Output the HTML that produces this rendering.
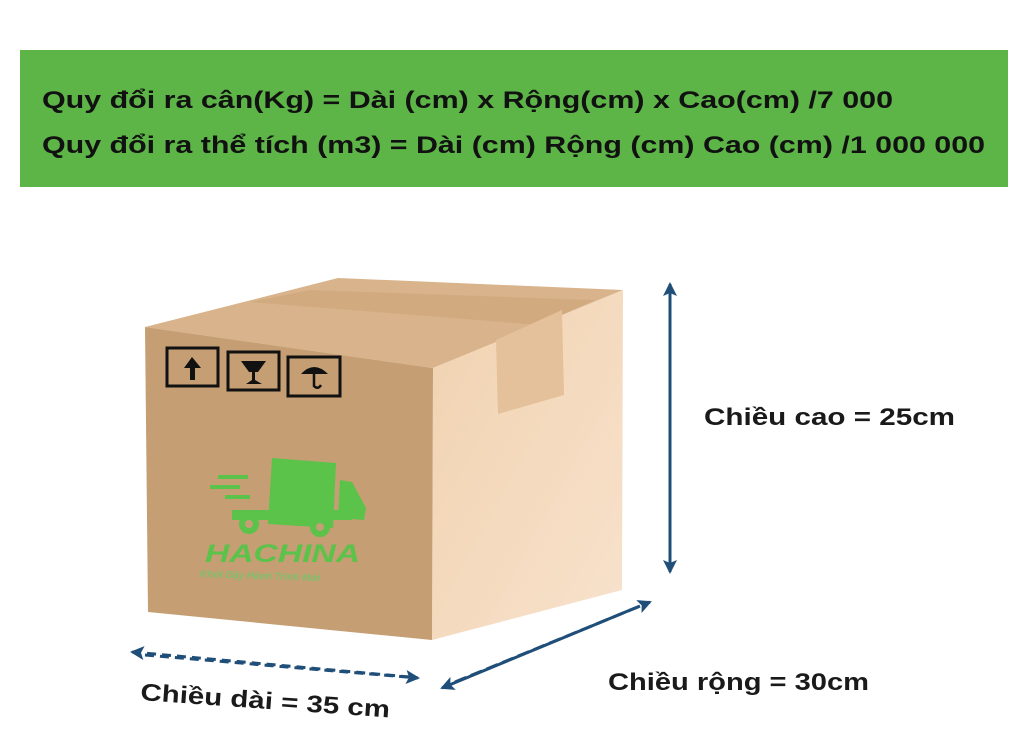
<!DOCTYPE html>
<html><head><meta charset="utf-8"><style>
html,body{margin:0;padding:0;background:#fff;}
svg{display:block;}
text{font-family:"Liberation Sans","DejaVu Sans",sans-serif;font-weight:bold;}
</style></head><body>
<svg width="1024" height="732" viewBox="0 0 1024 732" xmlns="http://www.w3.org/2000/svg">
<defs>
<marker id="ah" markerWidth="16" markerHeight="14" refX="12" refY="7" orient="auto" markerUnits="userSpaceOnUse">
<path d="M0,0 L14,7 L0,14 L3,7 Z" fill="#1f4e79"/></marker>
<linearGradient id="rg" x1="0" y1="0" x2="1" y2="1"><stop offset="0" stop-color="#f0d2b0"/><stop offset="1" stop-color="#f8e2cc"/></linearGradient>
</defs>
<rect x="20" y="50" width="988" height="137" fill="#5db548"/>
<text x="42" y="108" font-size="24" fill="#111" textLength="851" lengthAdjust="spacingAndGlyphs">Quy đổi ra cân(Kg) = Dài (cm) x Rộng(cm) x Cao(cm)  /7 000</text>
<text x="42" y="153" font-size="24" fill="#111" textLength="943" lengthAdjust="spacingAndGlyphs">Quy đổi ra thể tích (m3) = Dài (cm) Rộng (cm) Cao (cm) /1 000 000</text>

<polygon points="145,327 433,368 623,290 338,278" fill="#d8b38b"/>
<polygon points="250,302 540,325 595,300 310,290" fill="#cfa67c" opacity="0.7"/>
<polygon points="433,368 623,290 622,590 432,640" fill="url(#rg)"/>
<polygon points="496,340 562,310 564,395 498,414" fill="#e4c19b"/>
<polygon points="145,327 433,368 432,640 148,612" fill="#c59e74"/>

<g fill="none" stroke="#111" stroke-width="3">
<rect x="167" y="348" width="51" height="38"/>
<rect x="228" y="352" width="51" height="38"/>
<rect x="288" y="357" width="52" height="39"/>
</g>
<path d="M192,357 L184,368 L190,368 L190,380 L195,380 L195,368 L201,368 Z" fill="#111"/>
<path d="M241,361 L266,361 L258,372 L255,372 L255,380 L262,384 L246,384 L252,380 L252,372 L249,372 Z" fill="#111"/>
<path d="M301,374 Q314,360 328,374 Z" fill="#111"/>
<path d="M314,372 L314,386 Q318,390 321,385" fill="none" stroke="#111" stroke-width="2.5"/>

<g fill="#5bc24a">
<polygon points="272,458 336,463 333,528 268,524"/>
<path d="M340,480 L352,482 L366,508 L364,520 L338,518 Z"/>
<rect x="232" y="510" width="120" height="10"/>
<circle cx="249" cy="524" r="10"/><circle cx="320" cy="527" r="10"/>
<rect x="210" y="485" width="30" height="4"/><rect x="218" y="475" width="30" height="4"/><rect x="225" y="495" width="25" height="4"/>
</g>
<circle cx="249" cy="524" r="4" fill="#c59e74"/><circle cx="320" cy="527" r="4" fill="#c59e74"/>
<text x="205" y="562" font-size="25" fill="#5bc24a" font-style="italic" textLength="155" lengthAdjust="spacingAndGlyphs">HACHINA</text>
<text x="200" y="577" font-size="10" font-weight="normal" fill="#7fbf6a" font-style="italic" transform="rotate(2 200 577)">Khởi Dậy Hành Trình Mới</text>

<g stroke="#1f4e79" stroke-width="3" fill="none">
<line x1="670" y1="300" x2="670" y2="572" marker-end="url(#ah)"/>
<line x1="670" y1="560" x2="670" y2="284" marker-end="url(#ah)"/>
<line x1="145" y1="655" x2="418" y2="678" stroke-dasharray="9,6" marker-end="url(#ah)"/>
<line x1="410" y1="677" x2="132" y2="652" stroke-dasharray="9,6" marker-end="url(#ah)"/>
<line x1="455" y1="682" x2="650" y2="602" stroke-dasharray="12,5" marker-end="url(#ah)"/>
<line x1="640" y1="606" x2="442" y2="688" marker-end="url(#ah)"/>
</g>

<text x="704" y="425" font-size="24" fill="#1a1a1a" textLength="251" lengthAdjust="spacingAndGlyphs">Chiều cao = 25cm</text>
<text x="608" y="690" font-size="24" fill="#1a1a1a" textLength="261" lengthAdjust="spacingAndGlyphs">Chiều rộng = 30cm</text>
<text x="140" y="700" font-size="24" fill="#1a1a1a" textLength="250" lengthAdjust="spacingAndGlyphs" transform="rotate(4 140 700)">Chiều dài = 35 cm</text>
</svg>
</body></html>
